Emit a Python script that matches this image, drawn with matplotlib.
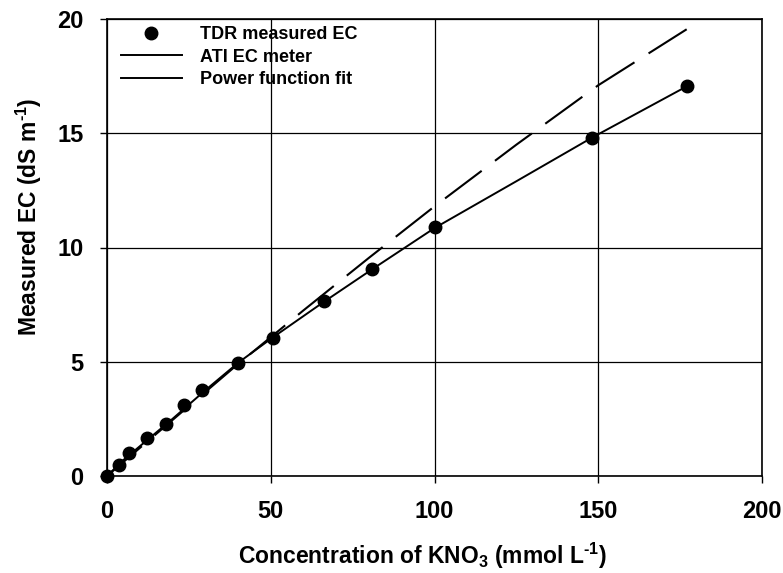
import matplotlib
matplotlib.use("Agg")
import matplotlib.pyplot as plt
from matplotlib.lines import Line2D

plt.rcParams['font.family'] = ['Liberation Sans', 'DejaVu Sans']
plt.rcParams['font.weight'] = 'bold'
plt.rcParams['mathtext.fontset'] = 'custom'
plt.rcParams['mathtext.rm'] = 'Liberation Sans:bold'
plt.rcParams['mathtext.bf'] = 'Liberation Sans:bold'
plt.rcParams['mathtext.it'] = 'Liberation Sans:bold'
plt.rcParams['mathtext.sf'] = 'Liberation Sans:bold'

# TDR measured EC points
tdr_x = [0, 3.6, 6.7, 12.1, 17.9, 23.6, 29.1, 39.9, 50.6, 66.3, 81.0, 100.2, 148.2, 177.0]
tdr_y = [0.0, 0.48, 1.0, 1.68, 2.28, 3.1, 3.75, 4.93, 6.03, 7.68, 9.06, 10.88, 14.78, 17.05]

# ATI EC meter (dashed)
ati_x = [0, 20, 40, 60, 80, 100, 125, 150, 177]
ati_y = [0.0, 2.45, 4.9, 7.25, 9.55, 11.8, 14.5, 17.1, 19.55]

# Power function fit (solid)
fit_x = [0, 5, 10, 20, 30, 40, 50, 66, 81, 100, 125, 148, 177]
fit_y = [0.0, 0.7, 1.3, 2.5, 3.75, 4.95, 6.0, 7.6, 9.05, 10.85, 12.9, 14.8, 17.05]

x_ticks = [0, 50, 100, 150, 200]
y_ticks = [0, 5, 10, 15, 20]

fig = plt.figure(figsize=(7.83, 5.73), dpi=100)
left, right, top, bottom = 107 / 783, 762 / 783, 1 - 19 / 573, 1 - 476 / 573
ax = fig.add_axes([left, bottom, right - left, top - bottom])

ax.plot(fit_x, fit_y, color='black', lw=1.4, zorder=3)
ax.plot(ati_x, ati_y, color='black', lw=1.5, dashes=(22, 8), zorder=3)
ax.plot(tdr_x, tdr_y, 'o', color='black', ms=9, zorder=4, clip_on=False)

ax.set_xlim(0, 200)
ax.set_ylim(0, 20)
ax.set_xticks(x_ticks)
ax.set_yticks(y_ticks)
ax.grid(True, color='black', lw=0.9)
ax.set_axisbelow(True)
for s in ax.spines.values():
    s.set_linewidth(1.2)
ax.tick_params(direction='out', length=5, width=1.0, labelsize=17, pad=12)
for lab in ax.get_xticklabels() + ax.get_yticklabels():
    lab.set_fontweight('bold')

ax.set_xlabel('Concentration of KNO$_3$ (mmol L$^{\\text{-}1}$)', fontsize=16.5, fontweight='bold')
ax.set_ylabel('Measured EC (dS m$^{\\text{-}1}$)', fontsize=16.5, fontweight='bold')
ax.xaxis.set_label_coords((422 - 107) / 655, (476 - 541) / 457)
ax.yaxis.set_label_coords((44 - 107) / 655, (476 - 217) / 457)

handles = [
    Line2D([], [], marker='o', color='black', ls='none', ms=9),
    Line2D([], [], color='black', lw=1.4),
    Line2D([], [], color='black', lw=1.4),
]
labels = ['TDR measured EC', 'ATI EC meter', 'Power function fit']
leg = ax.legend(handles, labels, loc='upper left', bbox_to_anchor=(-0.004, 1.02),
                frameon=False, handlelength=3.4, handletextpad=1.0,
                labelspacing=0.3, prop={'weight': 'bold', 'size': 13})

fig.savefig('out.png', dpi=100)
